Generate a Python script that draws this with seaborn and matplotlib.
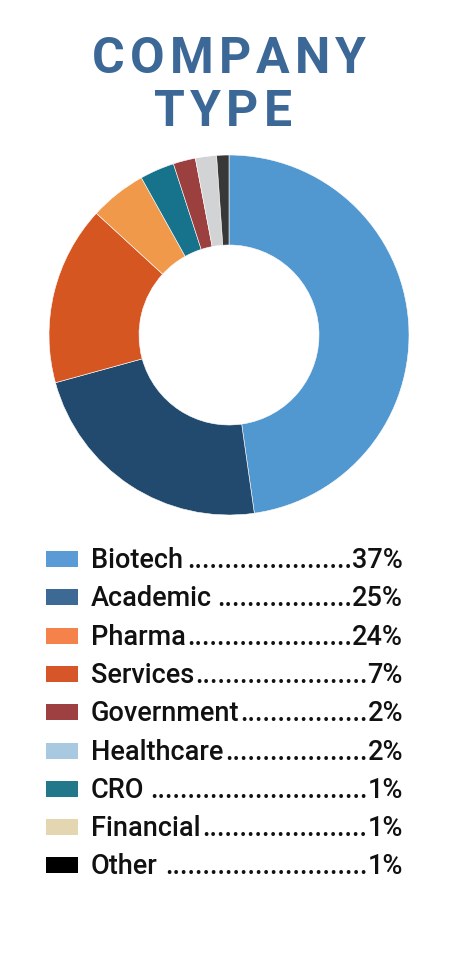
import matplotlib
matplotlib.use("Agg")
import matplotlib.pyplot as plt
import seaborn as sns
from matplotlib.patches import Rectangle

# =========================
# DATA
# =========================
categories = ["Biotech", "Academic", "Pharma", "Services", "Government",
              "Healthcare", "CRO", "Financial", "Other"]
legend_pct = [37, 25, 24, 7, 2, 2, 1, 1, 1]
legend_colors = ["#5B9BD5", "#3D6A95", "#F5814B", "#D65629", "#9E3F41",
                 "#A9C9E1", "#22778A", "#E4D6B0", "#000000"]

# ring segments as drawn (clockwise from 12 o'clock)
ring_labels = ["Biotech", "Academic", "Services", "Pharma", "CRO",
               "Government", "Healthcare", "Other"]
ring_shares = [47.8, 23.0, 16.1, 5.1, 3.1, 2.0, 1.9, 1.1]
ring_colors = ["#5197D0", "#214A6E", "#D65622", "#F0994A", "#17738C",
               "#9C3F3F", "#D1D3D4", "#383838"]

title_lines = ["COMPANY", "TYPE"]

# =========================
# STYLE
# =========================
sns.set_theme(style="white")
plt.rcParams["font.family"] = ["Roboto", "DejaVu Sans"]

W, H = 450, 956
fig = plt.figure(figsize=(W / 100, H / 100), dpi=100)
fig.patch.set_facecolor("white")

# =========================
# DONUT
# =========================
cx, cy, rad = 229, 335, 180
ax = fig.add_axes([(cx - rad) / W, (H - cy - rad) / H, 2 * rad / W, 2 * rad / H])
ax.pie(ring_shares, colors=ring_colors, startangle=90, counterclock=False,
       radius=1, wedgeprops=dict(width=0.5, edgecolor="white", linewidth=0.4))
ax.set_xlim(-1, 1)
ax.set_ylim(-1, 1)
ax.set_aspect("equal")
ax.axis("off")

# =========================
# TITLE + LEGEND (pixel coords)
# =========================
lax = fig.add_axes([0, 0, 1, 1])
lax.set_xlim(0, W)
lax.set_ylim(H, 0)
lax.axis("off")
renderer = fig.canvas.get_renderer()

# title, letter-spaced
title_color = "#3B6896"
title_fs = 36
track = 5
for line, (xc, base) in zip(title_lines, [(229, 73), (223, 126)]):
    widths = []
    for ch in line:
        t = lax.text(0, -200, ch, fontsize=title_fs, fontweight="semibold")
        widths.append(t.get_window_extent(renderer=renderer).width)
        t.remove()
    total = sum(widths) + track * (len(line) - 1)
    x = xc - total / 2
    for ch, w in zip(line, widths):
        lax.text(x, base, ch, ha="left", va="baseline", fontsize=title_fs,
                 fontweight="semibold", color=title_color)
        x += w + track

# legend with dot leaders
fs = 19.5
dot = lax.text(0, -100, ".", fontsize=fs, fontweight="medium")
dot_w = dot.get_window_extent(renderer=renderer).width
dot.remove()

y0, step = 568, 38.3
x_label, x_right = 91, 403
for i, (name, pct, col) in enumerate(zip(categories, legend_pct, legend_colors)):
    y = y0 + i * step
    lax.add_patch(Rectangle((46, y - 17), 32, 16, facecolor=col,
                            edgecolor=col, linewidth=0))
    t1 = lax.text(x_label, y, name, ha="left", va="baseline",
                  fontsize=fs, fontweight="medium", color="#111111")
    t2 = lax.text(x_right, y, f"{pct}%", ha="right", va="baseline",
                  fontsize=fs, fontweight="medium", color="#111111")
    e1 = t1.get_window_extent(renderer=renderer)
    e2 = t2.get_window_extent(renderer=renderer)
    n = int((e2.x0 - e1.x1) / dot_w)
    lax.text(e2.x0, y, "." * n, ha="right", va="baseline",
             fontsize=fs, fontweight="medium", color="#111111")

fig.savefig("out.png", dpi=100, facecolor="white")
